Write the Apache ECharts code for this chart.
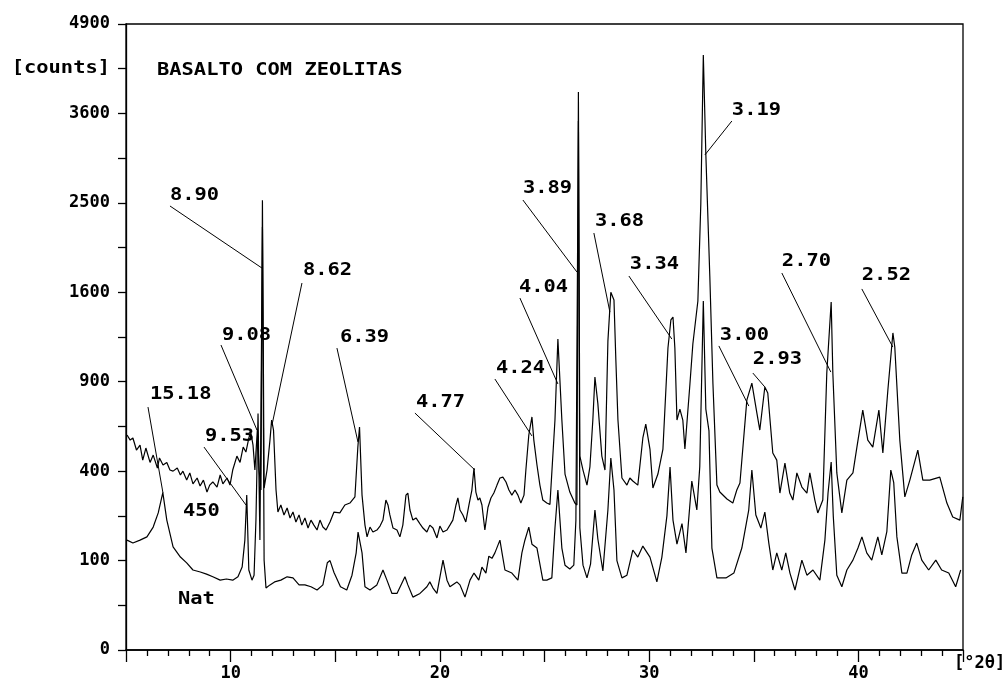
<!DOCTYPE html>
<html><head><meta charset="utf-8">
<script src="https://cdn.jsdelivr.net/npm/echarts@6/dist/echarts.min.js"></script>
<style>html,body{margin:0;padding:0;background:#fff}#c{width:1008px;height:683px}</style>
</head><body><div id="c"></div>
<script>
// upper trace (450)
const twoTheta450 = [5.05,5.20,5.33,5.50,5.67,5.80,5.95,6.15,6.30,6.50,6.60,6.77,6.95,7.10,7.25,7.45,7.60,7.72,7.90,8.05,8.20,8.40,8.54,8.70,8.87,9.00,9.15,9.35,9.50,9.63,9.83,9.97,10.10,10.30,10.45,10.60,10.73,10.88,10.97,11.07,11.16,11.28,11.36,11.45,11.52,11.60,11.74,11.88,11.96,12.05,12.17,12.26,12.40,12.55,12.70,12.84,12.98,13.12,13.27,13.40,13.55,13.70,13.84,13.98,14.13,14.27,14.41,14.56,14.75,14.94,15.22,15.46,15.70,15.94,16.08,16.16,16.28,16.42,16.52,16.66,16.80,16.99,17.14,17.28,17.42,17.52,17.61,17.76,17.95,18.09,18.23,18.38,18.47,18.57,18.71,18.86,19.05,19.19,19.38,19.52,19.67,19.86,20.00,20.15,20.34,20.48,20.62,20.77,20.86,20.96,21.10,21.24,21.39,21.53,21.63,21.72,21.82,21.91,22.01,22.15,22.30,22.44,22.58,22.73,22.87,23.01,23.16,23.30,23.44,23.59,23.73,23.87,24.02,24.11,24.25,24.40,24.49,24.64,24.78,24.92,25.11,25.26,25.50,25.64,25.83,25.98,26.21,26.45,26.55,26.62,26.69,26.84,27.03,27.17,27.31,27.41,27.55,27.74,27.89,28.03,28.17,28.32,28.41,28.51,28.70,28.94,29.08,29.22,29.46,29.70,29.84,30.04,30.18,30.42,30.66,30.90,31.04,31.14,31.23,31.33,31.47,31.61,31.71,31.95,32.09,32.33,32.47,32.59,32.71,32.90,33.05,33.24,33.38,33.72,34.00,34.19,34.34,34.67,34.91,35.15,35.29,35.53,35.67,35.91,36.10,36.25,36.49,36.72,36.87,37.06,37.30,37.54,37.68,37.92,38.06,38.30,38.49,38.70,38.78,38.97,39.21,39.45,39.74,39.93,40.21,40.45,40.69,40.98,41.17,41.41,41.65,41.74,41.98,42.22,42.46,42.84,43.08,43.41,43.89,44.23,44.51,44.85,44.99];
const counts450 = [578,551,562,500,525,451,510,440,475,414,461,428,440,405,400,414,383,400,361,392,345,370,336,361,312,340,353,332,383,345,370,340,405,470,440,515,490,567,588,525,405,610,405,320,2530,328,405,551,661,605,320,238,263,228,252,218,238,205,228,195,218,186,211,195,180,211,189,180,205,238,235,263,270,293,515,622,300,195,160,189,174,180,192,211,281,263,228,186,180,160,195,300,308,245,211,218,199,186,174,195,186,157,192,174,180,195,211,263,289,245,228,205,263,320,414,312,281,289,263,180,255,289,308,340,370,374,353,320,300,320,300,270,300,405,578,679,551,428,340,281,270,265,661,1209,661,387,312,270,263,3893,470,405,340,419,661,932,759,470,405,1193,1600,1532,1051,661,370,340,370,357,340,562,638,505,328,387,505,1140,1362,1386,1140,661,726,661,505,885,1171,1523,2488,4427,3076,1749,885,340,312,285,270,320,349,781,891,702,605,865,826,485,451,308,437,308,281,392,332,308,392,281,235,281,958,1514,958,392,235,361,392,515,720,551,515,720,485,845,1257,1148,551,293,361,500,361,361,374,270,221,211,293];

// lower trace (Nat)
const twoThetaNat = [5.05,5.33,5.67,6.00,6.30,6.54,6.76,6.95,7.25,7.60,7.90,8.20,8.55,8.85,9.15,9.50,9.80,10.10,10.35,10.55,10.68,10.77,10.87,11.02,11.12,11.21,11.31,11.40,11.52,11.60,11.69,11.88,12.10,12.40,12.70,12.98,13.27,13.55,13.84,14.13,14.41,14.62,14.75,14.94,15.25,15.55,15.80,16.00,16.09,16.28,16.42,16.66,16.99,17.28,17.47,17.71,17.95,18.33,18.47,18.71,19.05,19.38,19.52,19.67,19.86,20.15,20.34,20.48,20.81,20.96,21.20,21.44,21.63,21.86,22.01,22.20,22.34,22.49,22.63,22.87,22.97,23.11,23.44,23.73,23.92,24.06,24.25,24.40,24.64,24.92,25.11,25.35,25.50,25.64,25.83,25.98,26.21,26.40,26.50,26.62,26.69,26.84,27.03,27.20,27.41,27.55,27.79,28.03,28.17,28.32,28.46,28.70,28.94,29.22,29.46,29.70,30.04,30.37,30.61,30.85,31.00,31.14,31.33,31.57,31.76,32.04,32.28,32.42,32.59,32.71,32.86,33.00,33.24,33.67,34.05,34.43,34.76,34.91,35.10,35.34,35.53,35.72,35.91,36.10,36.34,36.53,36.73,36.97,37.30,37.54,37.83,38.16,38.40,38.55,38.70,38.80,38.97,39.21,39.45,39.74,39.98,40.17,40.40,40.64,40.93,41.12,41.36,41.55,41.69,41.84,42.08,42.32,42.55,42.79,43.03,43.36,43.70,43.98,44.32,44.65,44.89];
const countsNat = [151,143,151,160,189,235,310,211,133,108,95,80,76,72,67,61,63,61,67,86,151,300,80,61,70,211,700,151,2236,101,48,53,58,61,67,65,53,53,50,45,53,95,100,75,50,45,70,118,174,118,50,45,53,80,61,40,40,67,53,35,40,50,58,48,40,101,61,50,58,53,35,61,74,61,86,74,110,105,118,151,118,80,74,61,118,150,189,140,130,61,61,65,186,320,130,90,82,90,210,3500,186,90,65,92,245,154,78,245,461,320,100,65,70,125,108,135,108,58,108,225,419,211,140,200,118,357,245,420,1523,726,600,130,65,65,74,130,245,405,228,186,238,143,80,118,80,118,74,45,101,70,80,61,151,308,442,225,70,50,80,101,130,160,118,101,160,113,175,405,350,160,74,74,113,143,101,80,101,80,74,50,80];

// peak annotations (d-spacings) : label anchor, leader start, leader end (2θ, counts)
const peakLabels = ['15.18','9.53','9.08','8.90','8.62','6.39','4.77','4.24','4.04','3.89','3.68','3.34','3.19','3.00','2.93','2.70','2.52'];
const labelAt = [[6.147,813],[8.775,567],[9.587,1233],[7.102,2577],[13.457,1796],[15.225,1217],[18.856,763],[22.678,987],[23.777,1639],[23.968,2657],[27.408,2290],[29.08,1853],[33.954,3633],[33.38,1233],[34.957,1052],[36.343,1882],[40.165,1749]];
const leaderFrom = [[6.051,738],[8.727,515],[9.539,1163],[7.102,2465],[13.409,1684],[15.081,1140],[18.808,702],[22.63,918],[23.825,1549],[23.968,2532],[27.36,2174],[29.033,1749],[33.954,3499],[33.333,1156],[34.957,959],[36.343,1777],[40.165,1630]];
const leaderTo = [[6.768,308],[10.733,263],[11.259,605],[11.498,1824],[11.976,633],[16.085,541],[21.675,405],[24.398,573],[25.64,885],[26.548,1787],[28.125,1428],[31.087,1209],[32.664,3064],[34.766,744],[35.53,865],[38.684,966],[41.646,1148]];

const yTicks = [0,100,400,900,1600,2500,3600,4900];

const FONT = 'bold 17px "DejaVu Sans Mono", monospace';
const sq = v => Math.sqrt(v) / 10;
const chart = echarts.init(document.getElementById('c'), null, {renderer:'canvas'});

const upper = twoTheta450.map((x,i)=>[x, sq(counts450[i])]);
const lower = twoThetaNat.map((x,i)=>[x, sq(countsNat[i])]);
const leaders = peakLabels.map((t,i)=>[
  {coord:[leaderFrom[i][0], sq(leaderFrom[i][1])]},
  {coord:[leaderTo[i][0], sq(leaderTo[i][1])]}]);

chart.setOption({
  animation:false,
  backgroundColor:'#fff',
  grid:{left:126,right:45,top:24,bottom:33,show:true,borderColor:'#000',borderWidth:1.3,backgroundColor:'transparent'},
  xAxis:{type:'value',min:5,max:45,interval:5,
    axisLine:{lineStyle:{color:'#000',width:1.5}},
    axisTick:{length:12,lineStyle:{color:'#000',width:1.3}},
    minorTick:{show:true,splitNumber:5,length:6,lineStyle:{color:'#000',width:1.3}},
    splitLine:{show:false},
    axisLabel:{margin:15,color:'#000',fontFamily:'DejaVu Sans Mono',fontWeight:'bold',fontSize:17,
      formatter:v=> (v%10===0 && v<45) ? String(v) : ''}},
  yAxis:{type:'value',min:0,max:yTicks.length-1,interval:1,
    axisLine:{lineStyle:{color:'#000',width:1.3}},
    axisTick:{length:8,lineStyle:{color:'#000',width:1.3}},
    minorTick:{show:true,splitNumber:2,length:8,lineStyle:{color:'#000',width:1.3}},
    splitLine:{show:false},
    axisLabel:{margin:16,color:'#000',fontFamily:'DejaVu Sans Mono',fontWeight:'bold',fontSize:17,
      formatter:v=> String(yTicks[Math.round(v)])}},
  series:[
    {type:'line',data:upper,showSymbol:false,symbol:'none',lineStyle:{color:'#000',width:1.2},
      markLine:{silent:true,symbol:'none',label:{show:false},lineStyle:{color:'#000',width:1,type:'solid'},
        data:leaders}},
    {type:'line',data:lower,showSymbol:false,symbol:'none',lineStyle:{color:'#000',width:1.2}}
  ]
});

function addTexts(){
  const g = [];
  const txt = (x,y,t,align,sx)=>({type:'text',x:x,y:y,scaleX:sx||1.2,silent:true,
    style:{text:t,font:FONT,fill:'#000',textAlign:align||'left',textVerticalAlign:'middle'}});
  peakLabels.forEach((t,i)=>{
    const p = chart.convertToPixel({gridIndex:0},[labelAt[i][0], sq(labelAt[i][1])]);
    g.push(txt(p[0],p[1],t));
  });
  g.push(txt(157,71,'BASALTO COM ZEOLITAS'));
  g.push(txt(110,69,'[counts]','right'));
  g.push(txt(183,512,'450'));
  g.push(txt(178,600,'Nat'));
  g.push(txt(954,664,'[°2θ]','left',1.0));
  chart.setOption({graphic:g});
}
addTexts();
</script>
</body></html>
